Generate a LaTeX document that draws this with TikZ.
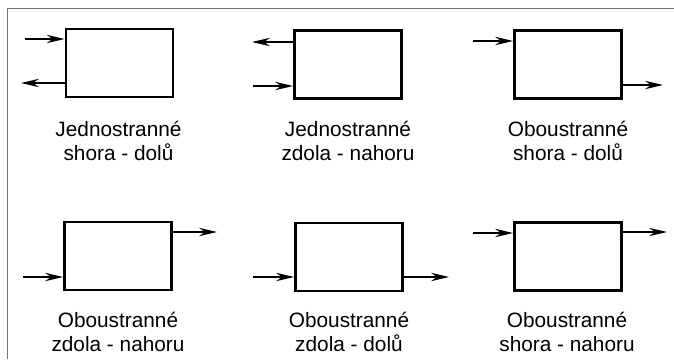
\documentclass[tikz,border=0pt]{standalone}
\usepackage{fontspec}
\setmainfont{Liberation Sans}
\usetikzlibrary{arrows.meta}

\begin{document}
\begin{tikzpicture}[x=0.5pt,y=-0.5pt]
\tikzstyle{block}=[rectangle,draw,line width=1.4pt,minimum width=53.5pt,minimum height=34pt,inner sep=0pt]
\tikzstyle{caption}=[align=center,inner sep=0pt,font=\fontsize{10.4}{11.8}\selectfont]
\tikzstyle{flow}=[line width=0.7pt,-{Stealth[length=9pt,width=4.2pt,inset=3pt]}]
\tikzstyle{frameLine}=[draw=black!55,line width=0.7pt]

\useasboundingbox (0,0) rectangle (674,359);

%frame.
\draw[frameLine] (7.5,359) -- (7.5,8.5) -- (674,8.5);

%top row.
\node[block] (jSD) at (119.5,63) {};
\node[block] (jZN) at (348,64.5) {};
\node[block] (oSD) at (568,64.5) {};

\node[caption] (jSDtext) at (118.5,141) {Jednostranné\\shora - dolů};
\node[caption] (jZNtext) at (348,141) {Jednostranné\\zdola - nahoru};
\node[caption] (oSDtext) at (568,141) {Oboustranné\\shora - dolů};

\coordinate (jSDin)  at (25,39);
\coordinate (jSDout) at (21,83);
\coordinate (jZNout) at (252,42);
\coordinate (jZNin)  at (253,86);
\coordinate (oSDin)  at (473,41);
\coordinate (oSDout) at (663,85);

\draw[flow] (jSDin) -- (jSDin -| jSD.west);
\draw[flow] (jSDout -| jSD.west) -- (jSDout);
\draw[flow] (jZNout -| jZN.west) -- (jZNout);
\draw[flow] (jZNin) -- (jZNin -| jZN.west);
\draw[flow] (oSDin) -- (oSDin -| oSD.west);
\draw[flow] (oSDout -| oSD.east) -- (oSDout);

%bottom row.
\node[block] (oZN) at (118,256) {};
\node[block] (oZD) at (349,257) {};
\node[block] (oSN) at (568,256.5) {};

\node[caption] (oZNtext) at (118,332) {Oboustranné\\zdola - nahoru};
\node[caption] (oZDtext) at (349,332) {Oboustranné\\zdola - dolů};
\node[caption] (oSNtext) at (567,332) {Oboustranné\\shora - nahoru};

\coordinate (oZNin)  at (23,277);
\coordinate (oZNout) at (217,232);
\coordinate (oZDin)  at (253,277);
\coordinate (oZDout) at (449,277);
\coordinate (oSNin)  at (473,233);
\coordinate (oSNout) at (667,232);

\draw[flow] (oZNin) -- (oZNin -| oZN.west);
\draw[flow] (oZNout -| oZN.east) -- (oZNout);
\draw[flow] (oZDin) -- (oZDin -| oZD.west);
\draw[flow] (oZDout -| oZD.east) -- (oZDout);
\draw[flow] (oSNin) -- (oSNin -| oSN.west);
\draw[flow] (oSNout -| oSN.east) -- (oSNout);

\end{tikzpicture}
\end{document}
